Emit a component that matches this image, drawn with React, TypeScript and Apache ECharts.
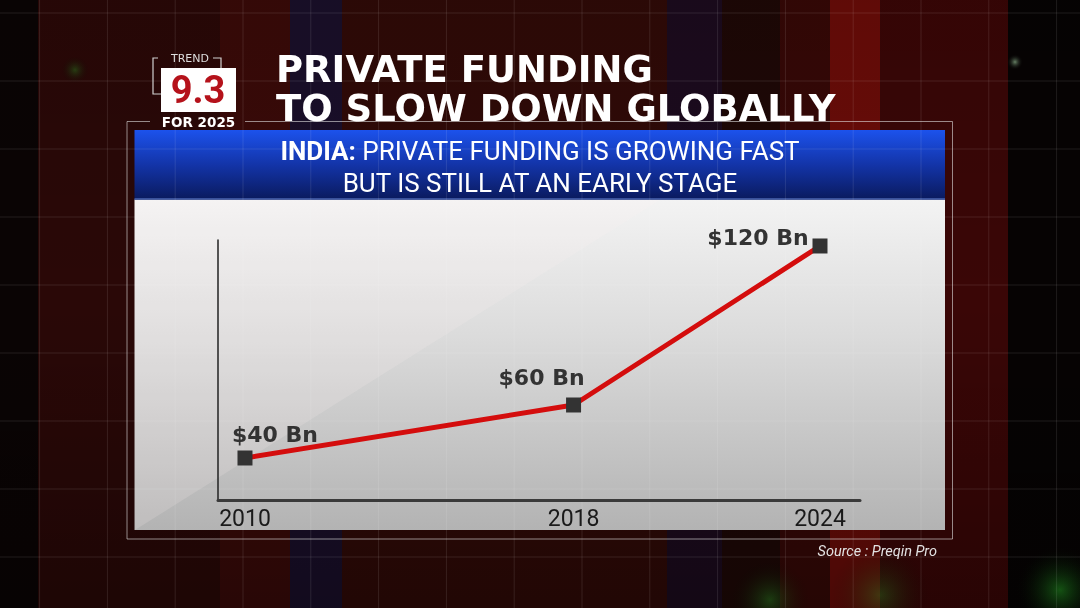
import React, { useEffect, useRef } from "react";
import * as echarts from "echarts";

// ---- data ----
const years = [2010, 2018, 2024];
const fundingBn = [40, 60, 120];
const valueLabels = ["$40 Bn", "$60 Bn", "$120 Bn"];
const labelOffsets = [
  [30, -23],
  [-32, -27],
  [-62, -8],
];
const titleLines = ["PRIVATE FUNDING", "TO SLOW DOWN GLOBALLY"];
const subtitleBold = "INDIA:";
const subtitleRest = " PRIVATE FUNDING IS GROWING FAST";
const subtitleLine2 = "BUT IS STILL AT AN EARLY STAGE";
const sourceText = "Source : Preqin Pro";

// background bands
const bands: [number, number, string][] = [
  [0, 38, "#0a0404"],
  [38, 220, "#2a0807"],
  [220, 290, "#3a0a08"],
  [290, 342, "#1a0f2a"],
  [342, 667, "#300a07"],
  [667, 722, "#1c0b1e"],
  [722, 780, "#1e0806"],
  [780, 830, "#360806"],
  [830, 880, "#6a0c08"],
  [880, 1008, "#3a0606"],
  [1008, 1080, "#060303"],
];

export default function App() {
  const ref = useRef<HTMLDivElement>(null);
  useEffect(() => {
    if (!ref.current) return;
    const chart = echarts.init(ref.current, undefined, { renderer: "svg" });
    const els: any[] = [];
    bands.forEach(([a, b, c]) =>
      els.push({ type: "rect", z: 0, shape: { x: a, y: 0, width: b - a, height: 608 }, style: { fill: c } })
    );
    // darkening overlay
    els.push({
      type: "rect",
      z: 0,
      shape: { x: 0, y: 0, width: 1080, height: 608 },
      style: {
        fill: new echarts.graphic.LinearGradient(0, 0, 0, 1, [
          { offset: 0, color: "rgba(0,0,0,0.1)" },
          { offset: 0.5, color: "rgba(0,0,0,0)" },
          { offset: 1, color: "rgba(0,0,0,0.3)" },
        ]),
      },
    });
    // glows
    const glows = [
      [770, 600, 40, "rgba(40,160,40,0.35)"],
      [880, 595, 50, "rgba(40,160,40,0.3)"],
      [1060, 590, 45, "rgba(40,180,40,0.45)"],
      [75, 70, 14, "rgba(40,160,40,0.35)"],
      [1015, 62, 8, "rgba(200,255,200,0.5)"],
    ];
    glows.forEach(([x, y, r, c]) =>
      els.push({
        type: "circle",
        z: 0,
        shape: { cx: x, cy: y, r },
        style: {
          fill: new echarts.graphic.RadialGradient(0.5, 0.5, 0.5, [
            { offset: 0, color: c as string },
            { offset: 1, color: "rgba(0,0,0,0)" },
          ]),
        },
      })
    );
    // panel
    els.push({
      type: "rect",
      z: 1,
      shape: { x: 134.5, y: 199.5, width: 810.5, height: 330.5 },
      style: {
        fill: new echarts.graphic.LinearGradient(0, 0, 0, 1, [
          { offset: 0, color: "#f3f3f3" },
          { offset: 0.4, color: "#dcdcdc" },
          { offset: 1, color: "#b3b3b3" },
        ]),
      },
    });
    els.push({
      type: "polygon",
      z: 1,
      shape: { points: [[135, 530], [135, 200], [660, 200]] },
      style: { fill: "rgba(255,240,240,0.16)" },
    });
    // banner
    els.push({
      type: "rect",
      z: 1,
      shape: { x: 134.5, y: 130, width: 810.5, height: 69.5 },
      style: {
        fill: new echarts.graphic.LinearGradient(0, 0, 0, 1, [
          { offset: 0, color: "#1c52ec" },
          { offset: 0.5, color: "#1334a8" },
          { offset: 1, color: "#0a1a5e" },
        ]),
      },
    });
    els.push({ type: "line", z: 1, shape: { x1: 134.5, y1: 199, x2: 945, y2: 199 }, style: { stroke: "#4a64b0", lineWidth: 1.5 } });
    // grid lines
    for (let k = 0; k < 16; k++) {
      const x = 39.6 + 67.8 * k;
      els.push({ type: "line", z: 2, shape: { x1: x, y1: 0, x2: x, y2: 608 }, style: { stroke: "rgba(255,255,255,0.1)", lineWidth: 1 } });
    }
    for (let k = 0; k < 9; k++) {
      const y = 13 + 68 * k;
      els.push({ type: "line", z: 2, shape: { x1: 0, y1: y, x2: 1080, y2: y }, style: { stroke: "rgba(255,255,255,0.1)", lineWidth: 1 } });
    }
    // frame
    els.push({
      type: "polyline",
      z: 3,
      shape: { points: [[150, 121.5], [127, 121.5], [127, 539], [952.5, 539], [952.5, 121.5], [245, 121.5]] },
      style: { stroke: "rgba(225,225,225,0.6)", lineWidth: 1, fill: null },
    });
    // logo
    els.push({ type: "polyline", z: 3, shape: { points: [[158, 58], [153, 58], [153, 94], [161, 94]] }, style: { stroke: "#d0d0d0", lineWidth: 1.2, fill: null } });
    els.push({ type: "polyline", z: 3, shape: { points: [[213, 58], [221, 58], [221, 68]] }, style: { stroke: "#d0d0d0", lineWidth: 1.2, fill: null } });
    els.push({ type: "rect", z: 3, shape: { x: 161, y: 68, width: 75, height: 44 }, style: { fill: "#ffffff" } });
    els.push({
      type: "text", z: 4, x: 190, y: 58,
      style: { text: "TREND", fill: "#dddddd", fontSize: 11, fontFamily: "DejaVu Sans", align: "center", verticalAlign: "middle" },
    });
    els.push({
      type: "text", z: 4, x: 198, y: 90,
      style: { text: "9.3", fill: "#b5121b", fontSize: 38, fontWeight: "bold", fontFamily: "Roboto", align: "center", verticalAlign: "middle" },
    });
    els.push({
      type: "text", z: 4, x: 198.5, y: 122,
      style: { text: "FOR 2025", fill: "#ffffff", fontSize: 13.5, fontWeight: "bold", fontFamily: "DejaVu Sans", align: "center", verticalAlign: "middle" },
    });
    // title (two lines in one text block)
    els.push({
      type: "text", z: 4, x: 276, y: 50,
      style: {
        text: titleLines.join("\n"),
        fill: "#ffffff",
        fontSize: 37,
        lineHeight: 39,
        fontWeight: "bold",
        fontFamily: "DejaVu Sans",
        align: "left",
        verticalAlign: "top",
      },
    });
    // banner texts
    els.push({
      type: "text", z: 4, x: 540, y: 151,
      style: {
        text: `{b|${subtitleBold}}{r|${subtitleRest}}`,
        align: "center",
        verticalAlign: "middle",
        rich: {
          b: { fill: "#ffffff", fontSize: 26, fontWeight: "bold", fontFamily: "Roboto" },
          r: { fill: "#ffffff", fontSize: 26, fontFamily: "Roboto" },
        },
      },
    });
    els.push({
      type: "text", z: 4, x: 540, y: 182.5,
      style: { text: subtitleLine2, fill: "#ffffff", fontSize: 26, fontFamily: "Roboto", align: "center", verticalAlign: "middle" },
    });
    // source
    els.push({
      type: "text", z: 4, x: 937, y: 551,
      style: { text: sourceText, fill: "#e2e2e2", fontSize: 14.5, fontStyle: "italic", fontFamily: "Roboto", align: "right", verticalAlign: "middle" },
    });

    chart.setOption({
      animation: false,
      graphic: { elements: els },
      grid: { left: 218, right: 220, top: 240, bottom: 108 },
      xAxis: {
        type: "value",
        min: 2009.343,
        max: 2024.974,
        z: 8,
        axisLine: { show: true, onZero: false, lineStyle: { color: "#3a3a3a", width: 3 } },
        axisTick: { show: false },
        splitLine: { show: false },
        axisLabel: {
          customValues: years,
          formatter: (v: number) => String(v),
          color: "#1a1a1a",
          fontSize: 23,
          fontFamily: "Roboto",
          margin: 7,
        },
      },
      yAxis: {
        type: "value",
        min: 24.15,
        max: 122.26,
        z: 8,
        axisLine: { show: true, onZero: false, lineStyle: { color: "#222222", width: 1.5 } },
        axisTick: { show: false },
        axisLabel: { show: false },
        splitLine: { show: false },
      },
      series: [
        {
          type: "line",
          z: 10,
          symbol: "rect",
          symbolSize: 15,
          itemStyle: { color: "#333333" },
          lineStyle: { color: "#d40d0d", width: 5 },
          label: {
            show: true,
            position: "inside",
            color: "#333333",
            fontSize: 22,
            fontWeight: "bold",
            fontFamily: "DejaVu Sans",
          },
          data: years.map((y, i) => ({
            value: [y, fundingBn[i]],
            label: { formatter: valueLabels[i], offset: labelOffsets[i] },
          })),
        },
      ],
    });
    return () => chart.dispose();
  }, []);
  return <div ref={ref} style={{ position: "fixed", left: 0, top: 0, width: 1080, height: 608 }} />;
}
